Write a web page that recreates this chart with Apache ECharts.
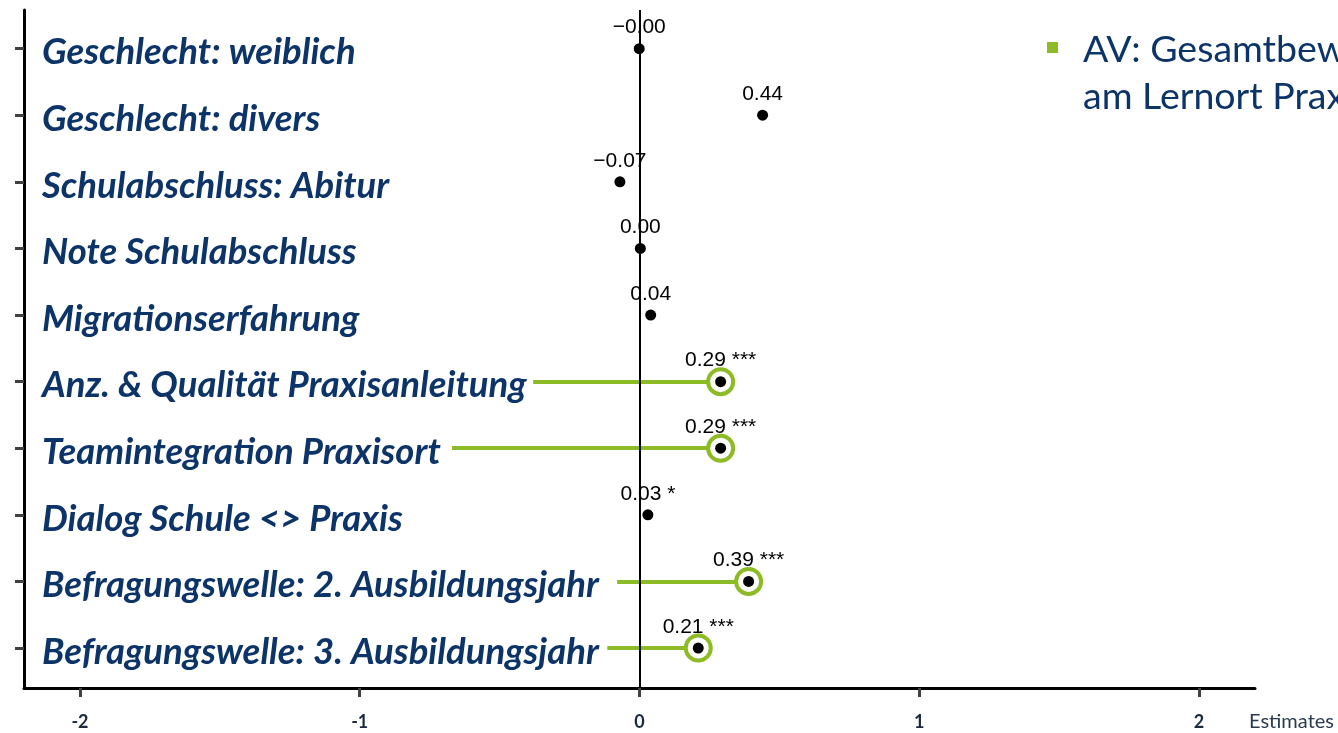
<!DOCTYPE html>
<html><head><meta charset="utf-8">
<script src="https://cdn.jsdelivr.net/npm/echarts@6/dist/echarts.min.js"></script>
<style>html,body{margin:0;padding:0;background:#fff}#c{width:1338px;height:733px}</style>
</head><body><div id="c"></div>
<script>
const categories = ['Geschlecht: weiblich','Geschlecht: divers','Schulabschluss: Abitur','Note Schulabschluss','Migrationserfahrung','Anz. & Qualität Praxisanleitung','Teamintegration Praxisort','Dialog Schule <> Praxis','Befragungswelle: 2. Ausbildungsjahr','Befragungswelle: 3. Ausbildungsjahr'];
const estimates = [-0.001, 0.44, -0.07, 0.003, 0.04, 0.29, 0.29, 0.03, 0.39, 0.21];
const significance = ['', '', '', '', '', '***', '***', '*', '***', '***'];
const highlighted = [5, 6, 8, 9];
const highlightFrom = [-0.38, -0.67, -0.08, -0.115];
const xTicks = [-2, -1, 0, 1, 2];
const legendLines = ['AV: Gesamtbewertung', 'am Lernort Praxis'];
const axisName = 'Estimates';

const GREEN = '#8DBB25';
const NAVY = '#0D3468';
const idx = categories.map((_, i) => i);

function fmt(v) {
  return (v < 0 ? '\u2212' : '') + Math.abs(v).toFixed(2);
}

const chart = echarts.init(document.getElementById('c'));
chart.setOption({
  animation: false,
  backgroundColor: '#fff',
  grid: { left: 24, right: 83, top: 10, bottom: 45, containLabel: false },
  xAxis: {
    type: 'value', min: -2.2, max: 2.2,
    axisLine: { show: true, onZero: false, lineStyle: { color: '#000', width: 3 } },
    axisTick: { show: true, customValues: xTicks, length: 9, lineStyle: { color: '#404040', width: 3 } },
    axisLabel: { customValues: xTicks, margin: 25, fontSize: 18, fontWeight: 'bold', fontFamily: 'Lato', color: '#1b2a3f' },
    splitLine: { show: false },
    name: axisName, nameLocation: 'end', nameGap: -6,
    nameTextStyle: { fontSize: 20, fontFamily: 'Lato', color: '#2a3a4f', align: 'left', verticalAlign: 'top', padding: [24, 0, 0, 0] }
  },
  yAxis: {
    type: 'value', inverse: true, min: -0.58, max: 9.6,
    axisLine: { show: true, onZero: false, lineStyle: { color: '#000', width: 3 } },
    axisTick: { show: true, customValues: idx, length: 9, inside: false, lineStyle: { color: '#404040', width: 3 } },
    axisLabel: {
      inside: true, customValues: idx, margin: 18,
      formatter: v => '{c|' + categories[Math.round(v)] + '}',
      rich: { c: { fontSize: 36.5, fontWeight: 'bold', fontStyle: 'italic', fontFamily: 'Lato', color: NAVY, padding: [8, 0, 0, 0] } },
      fontSize: 36.5, fontWeight: 'bold', fontStyle: 'italic', fontFamily: 'Lato', color: NAVY
    },
    splitLine: { show: false }
  },
  graphic: [
    { type: 'rect', shape: { x: 1047, y: 42, width: 11, height: 11 }, style: { fill: GREEN } },
    { type: 'text', x: 1083, y: 26, style: { text: legendLines.join('\n'), font: '37.5px Lato', fill: NAVY, lineHeight: 47 } }
  ],
  series: [
    {
      type: 'scatter', data: [], silent: true, z: 1,
      markLine: { silent: true, symbol: 'none', label: { show: false },
        lineStyle: { color: '#000', width: 2, type: 'solid' }, data: [{ xAxis: 0 }] }
    },
    {
      type: 'lines', coordinateSystem: 'cartesian2d', z: 2, silent: true,
      lineStyle: { color: GREEN, width: 4, opacity: 1 },
      data: highlighted.map((r, k) => ({ coords: [[highlightFrom[k], r], [estimates[r], r]] }))
    },
    {
      type: 'scatter', z: 3, symbol: 'circle', symbolSize: 25, silent: true,
      itemStyle: { color: '#fff', borderColor: GREEN, borderWidth: 4, opacity: 1 },
      data: highlighted.map(r => [estimates[r], r])
    },
    {
      type: 'scatter', z: 4, symbol: 'circle', symbolSize: 11, silent: true,
      itemStyle: { color: '#000', opacity: 1 },
      label: {
        show: true, position: 'top', distance: 5, color: '#000', fontSize: 21, fontFamily: 'Liberation Sans',
        formatter: p => fmt(estimates[p.dataIndex]) + (significance[p.dataIndex] ? ' ' + significance[p.dataIndex] : '')
      },
      data: estimates.map((v, i) => [v, i])
    }
  ]
});
</script>
</body></html>
